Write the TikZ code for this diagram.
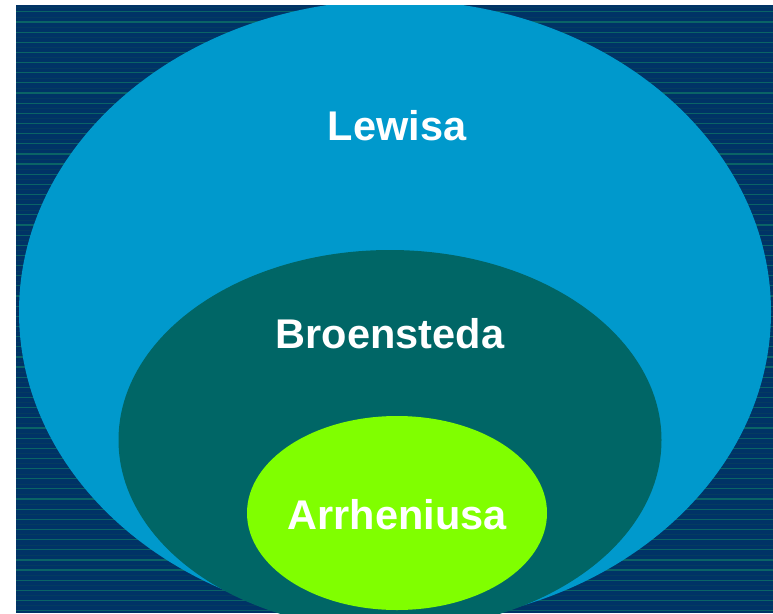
\documentclass[tikz,border=0pt]{standalone}
\usepackage{fontspec}
\setmainfont{Liberation Sans}
\usetikzlibrary{shapes.geometric}
\definecolor{navy}{HTML}{003366}
\definecolor{stripe}{HTML}{0A6466}
\definecolor{faint}{HTML}{043B60}
\definecolor{lewis}{HTML}{0099CC}
\definecolor{bron}{HTML}{006666}
\definecolor{arrh}{HTML}{80FF00}
\tikzset{
  oval/.style={ellipse, inner sep=0pt, draw=none},
  lbl/.style={text=white, font=\fontsize{41.5}{48}\selectfont\bfseries, inner sep=0pt, anchor=center}
}
\begin{document}
\begin{tikzpicture}[x=1pt, y=-1pt]
\useasboundingbox (0,0) rectangle (773,613);
\fill[white] (0,0) rectangle (773,613);
\begin{scope}
\clip (16,5) rectangle (773,613);
\fill[navy] (16,5) rectangle (773,613);
\foreach \i in {0,...,59} {
  \fill[faint] (16,{6.6+\i*10.15}) rectangle (773,{7.6+\i*10.15});
  \fill[stripe] (16,{11.2+\i*10.15}) rectangle (773,{12.4+\i*10.15});
}
\node[oval, fill=lewis, minimum width=752pt, minimum height=624pt] (lewisov) at (395,312) {};
\node[oval, fill=bron, minimum width=543pt, minimum height=380pt] (bronov) at (390,440) {};
\node[oval, fill=arrh, minimum width=300pt, minimum height=194pt] (arrhov) at (397,513) {};
\end{scope}
\node[lbl] (lewist) at (397,126) {Lewisa};
\node[lbl] (bront) at (390,334) {Broensteda};
\node[lbl] (arrht) at (397,515) {Arrheniusa};
\end{tikzpicture}
\end{document}
